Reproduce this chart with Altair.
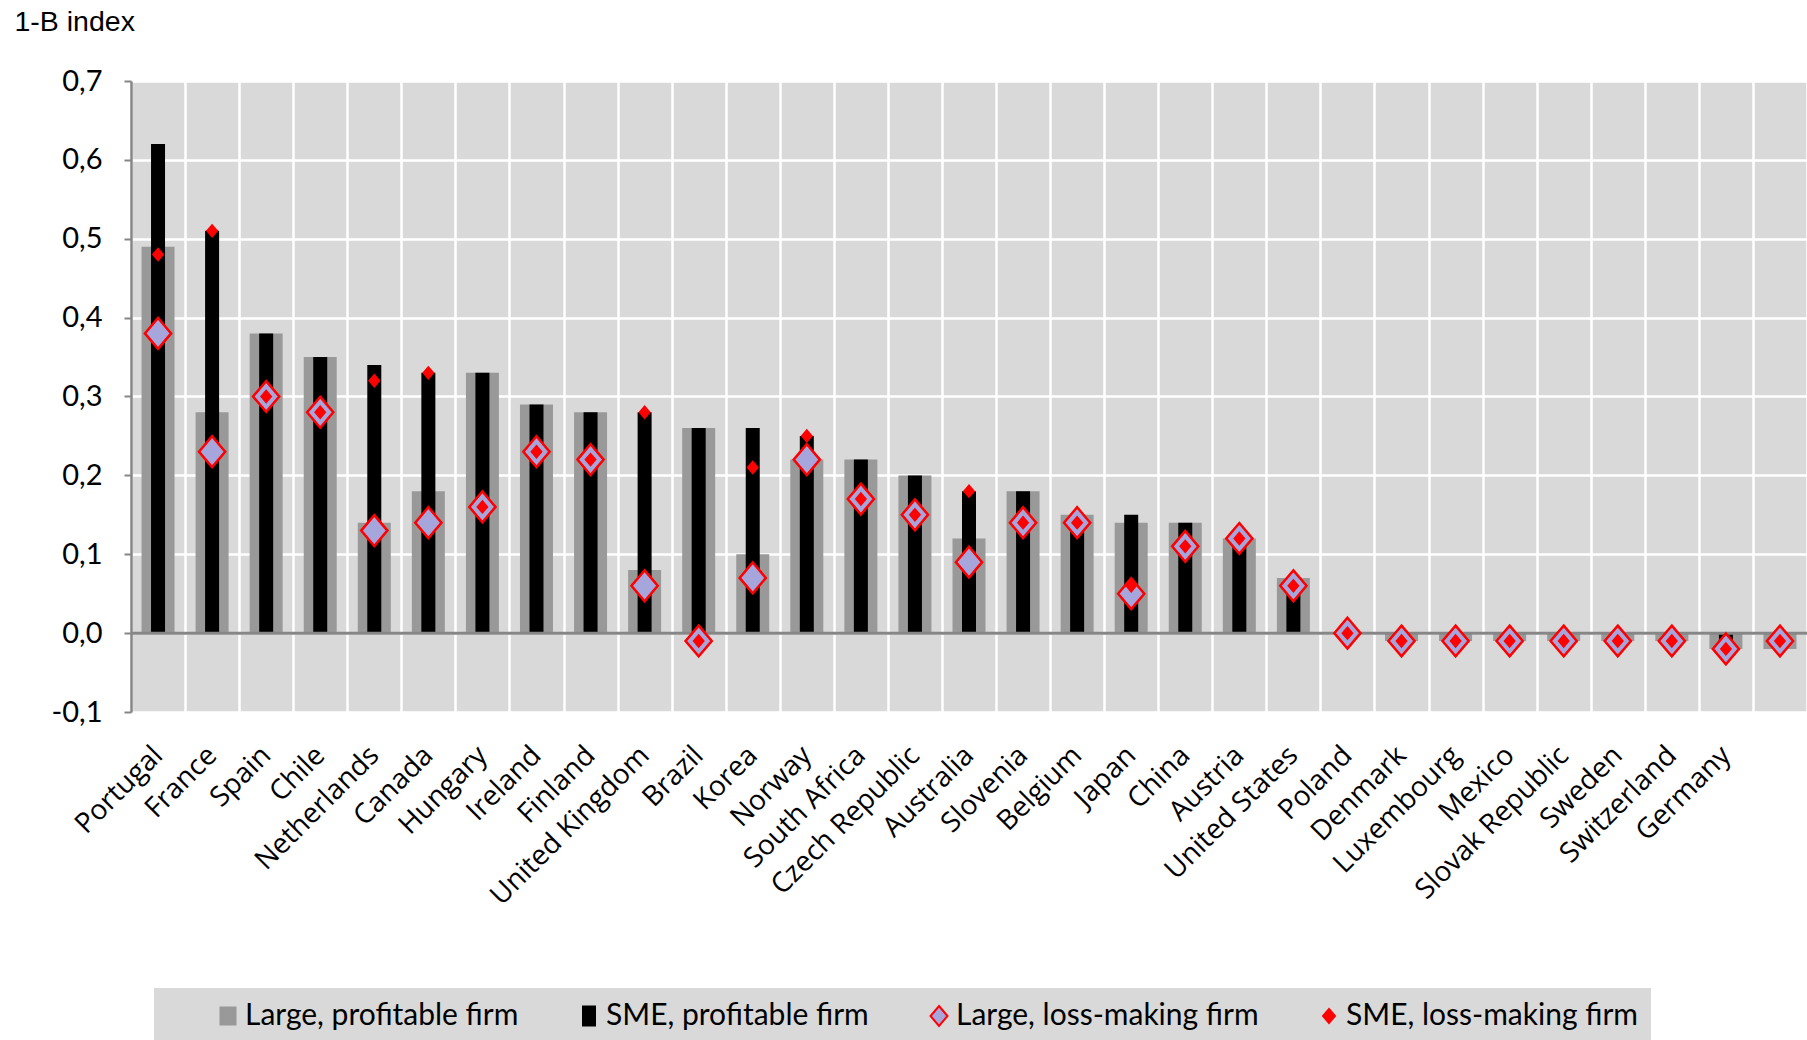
import altair as alt
import pandas as pd

countries = ["Portugal", "France", "Spain", "Chile", "Netherlands", "Canada", "Hungary",
             "Ireland", "Finland", "United Kingdom", "Brazil", "Korea", "Norway",
             "South Africa", "Czech Republic", "Australia", "Slovenia", "Belgium", "Japan",
             "China", "Austria", "United States", "Poland", "Denmark", "Luxembourg",
             "Mexico", "Slovak Republic", "Sweden", "Switzerland", "Germany", " "]

large_profitable = [0.49, 0.28, 0.38, 0.35, 0.14, 0.18, 0.33, 0.29, 0.28, 0.08, 0.26, 0.10,
                    0.22, 0.22, 0.20, 0.12, 0.18, 0.15, 0.14, 0.14, 0.12, 0.07, 0.00, -0.01,
                    -0.01, -0.01, -0.01, -0.01, -0.01, -0.02, -0.02]
sme_profitable = [0.62, 0.51, 0.38, 0.35, 0.34, 0.33, 0.33, 0.29, 0.28, 0.28, 0.26, 0.26,
                  0.25, 0.22, 0.20, 0.18, 0.18, 0.15, 0.15, 0.14, 0.12, 0.06, 0.00, 0.00,
                  0.00, 0.00, 0.00, 0.00, 0.00, -0.01, 0.00]
large_loss = [0.38, 0.23, 0.30, 0.28, 0.13, 0.14, 0.16, 0.23, 0.22, 0.06, -0.01, 0.07,
              0.22, 0.17, 0.15, 0.09, 0.14, 0.14, 0.05, 0.11, 0.12, 0.06, 0.00, -0.01,
              -0.01, -0.01, -0.01, -0.01, -0.01, -0.02, -0.01]
sme_loss = [0.48, 0.51, 0.30, 0.28, 0.32, 0.33, 0.16, 0.23, 0.22, 0.28, -0.01, 0.21,
            0.25, 0.17, 0.15, 0.18, 0.14, 0.14, 0.06, 0.11, 0.12, 0.06, 0.00, -0.01,
            -0.01, -0.01, -0.01, -0.01, -0.01, -0.02, -0.01]

series = ["Large, profitable firm", "SME, profitable firm",
          "Large, loss-making firm", "SME, loss-making firm"]
y_ticks = [-0.1, 0.0, 0.1, 0.2, 0.3, 0.4, 0.5, 0.6, 0.7]

fill_colors = ["#999999", "#000000", "#A6A6DD", "#FF0000"]
stroke_colors = ["#999999", "#000000", "#FF0000", "#FF0000"]
shape_paths = [
    "M-0.75,-0.85H0.75V0.85H-0.75Z",
    "M-0.6,-0.95H0.6V0.95H-0.6Z",
    "M0,-1L0.85,0L0,1L-0.85,0Z",
    "M0,-0.7L0.6,0L0,0.7L-0.6,0Z",
]

rows = []
for s, vals in zip(series, [large_profitable, sme_profitable, large_loss, sme_loss]):
    for c, v in zip(countries, vals):
        rows.append({"country": c, "series": s, "value": v})
df = pd.DataFrame(rows)

x_enc = alt.X(
    "country:N",
    scale=alt.Scale(domain=countries, paddingInner=0, paddingOuter=0),
    axis=alt.Axis(
        title=None, labelAngle=-45, labelAlign="right", labelBaseline="middle",
        labelFont="Open Sans", labelFontSize=28, labelColor="black", labelPadding=39,
        labelLimit=500, labelOverlap=False, domain=False, ticks=False,
        grid=True, gridColor="white", gridWidth=2.5, tickBand="extent",
    ),
)
y_enc = alt.Y(
    "value:Q",
    scale=alt.Scale(domain=[-0.1, 0.7], nice=False, zero=False),
    axis=alt.Axis(
        values=y_ticks,
        labelExpr="(datum.value < -0.00001 ? '-' : '') + replace(format(abs(datum.value), '.1f'), '.', ',')",
        title="1-B index", titleAngle=0, titleAlign="left", titleBaseline="middle",
        titleX=-117, titleY=-60, titleFont="Liberation Sans", titleFontSize=28.5,
        titleFontWeight="normal", titleColor="black",
        labelFont="Lato", labelFontSize=29, labelColor="black", labelPadding=22,
        tickColor="#868686", tickSize=7, tickWidth=2,
        domainColor="#868686", domainWidth=2.5,
        grid=True, gridColor="white", gridWidth=2.5,
    ),
)

fill_enc = alt.Fill("series:N", scale=alt.Scale(domain=series, range=fill_colors),
                    legend=alt.Legend(title=None))
stroke_enc = alt.Stroke("series:N", scale=alt.Scale(domain=series, range=stroke_colors),
                        legend=alt.Legend(title=None))
shape_enc = alt.Shape("series:N", scale=alt.Scale(domain=series, range=shape_paths),
                      legend=alt.Legend(title=None))

base = alt.Chart(df).encode(x=x_enc, y=y_enc)

bars_large = base.transform_filter(alt.datum.series == series[0]).mark_bar(width=33).encode(fill=fill_enc)
bars_sme = base.transform_filter(alt.datum.series == series[1]).mark_bar(width=14).encode(fill=fill_enc)

zero_line = alt.Chart(pd.DataFrame({"value": [0.0]})).mark_rule(
    color="#868686", strokeWidth=3
).encode(y=alt.Y("value:Q"))

pts_large = base.transform_filter(alt.datum.series == series[2]).mark_point(
    filled=True, size=950, strokeWidth=2.5, opacity=1
).encode(fill=fill_enc, stroke=stroke_enc, shape=shape_enc)
pts_sme = base.transform_filter(alt.datum.series == series[3]).mark_point(
    filled=True, size=420, strokeWidth=0, opacity=1
).encode(fill=fill_enc, stroke=stroke_enc, shape=shape_enc)

chart = alt.layer(bars_large, bars_sme, zero_line, pts_large, pts_sme).properties(
    width=1676, height=631,
    autosize=alt.AutoSizeParams(type="none"),
    padding={"left": 131, "top": 81, "right": 0, "bottom": 328},
).configure_view(
    fill="#D9D9D9", strokeWidth=0
).configure_legend(
    orient="none", legendX=23, legendY=907, direction="horizontal", columns=4,
    fillColor="#D9D9D9", padding=13, symbolSize=400, symbolStrokeWidth=2,
    symbolOffset=46, labelFont="Lato", labelFontSize=30, labelColor="black",
    labelOffset=2, columnPadding=9, labelLimit=600,
)

chart.save("out.html", embed_options={"renderer": "svg", "actions": False})
